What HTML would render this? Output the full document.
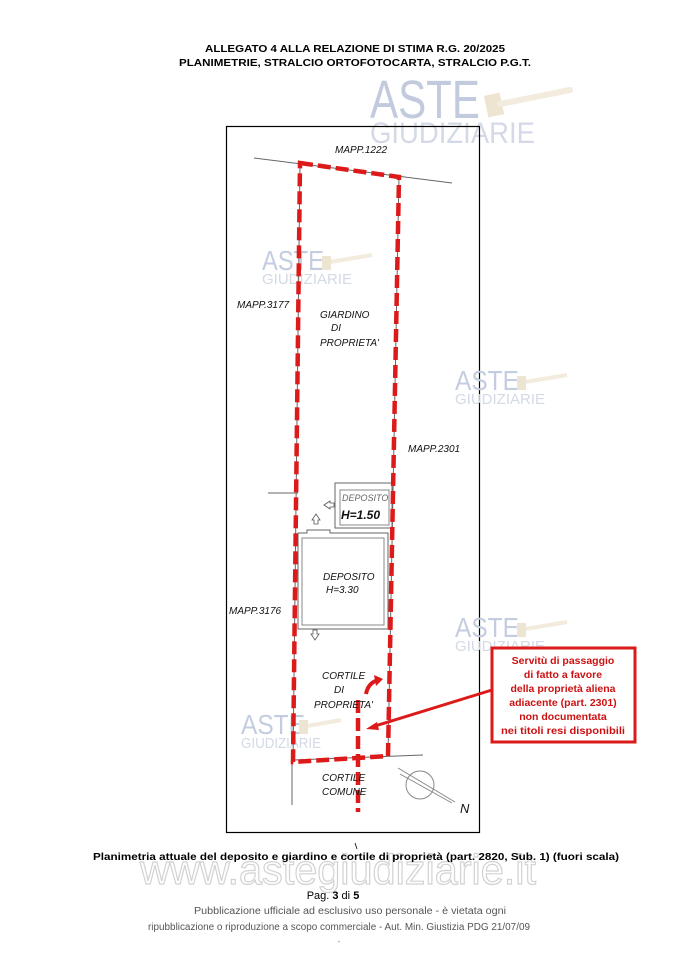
<!DOCTYPE html>
<html><head><meta charset="utf-8"><style>
html,body{margin:0;padding:0;background:#fff}
svg{display:block}
</style></head><body>
<svg width="679" height="959" viewBox="0 0 679 959" xmlns="http://www.w3.org/2000/svg" font-family="Liberation Sans, sans-serif">
<!-- header -->
<text x="355" y="52" font-size="10.5" font-weight="bold" text-anchor="middle" textLength="300" lengthAdjust="spacingAndGlyphs">ALLEGATO 4  ALLA RELAZIONE DI STIMA R.G. 20/2025</text>
<text x="355" y="66" font-size="10.5" font-weight="bold" text-anchor="middle" textLength="352" lengthAdjust="spacingAndGlyphs">PLANIMETRIE, STRALCIO ORTOFOTOCARTA, STRALCIO P.G.T.</text>

<!-- big watermark -->
<g>
<text x="370" y="118" font-size="54" fill="#c2cbde" textLength="110" lengthAdjust="spacingAndGlyphs">ASTE</text>
<text x="370" y="143" font-size="30" fill="#d3d9e6" textLength="165" lengthAdjust="spacingAndGlyphs">GIUDIZIARIE</text>
<rect x="486" y="94" width="16" height="22" fill="#eee4d2" transform="rotate(-12 494 105)"/>
<line x1="500" y1="104" x2="570" y2="90" stroke="#f2ebde" stroke-width="6" stroke-linecap="round"/>
</g>

<!-- frame -->
<rect x="226.5" y="126.5" width="253" height="706" fill="none" stroke="#000" stroke-width="1.2"/>

<!-- small watermarks -->
<g fill="#c4cde0">
<g transform="translate(262,248)"><text x="0" y="22" font-size="28" textLength="62" lengthAdjust="spacingAndGlyphs">ASTE</text><text x="0" y="36" font-size="15" fill="#d3d9e6" textLength="90" lengthAdjust="spacingAndGlyphs">GIUDIZIARIE</text><line x1="68" y1="14" x2="110" y2="7" stroke="#f2ebde" stroke-width="4"/><rect x="60" y="8" width="9" height="14" fill="#eee4d2"/></g>
<g transform="translate(455,368)"><text x="0" y="22" font-size="28" textLength="64" lengthAdjust="spacingAndGlyphs">ASTE</text><text x="0" y="36" font-size="15" fill="#d3d9e6" textLength="90" lengthAdjust="spacingAndGlyphs">GIUDIZIARIE</text><line x1="70" y1="14" x2="112" y2="7" stroke="#f2ebde" stroke-width="4"/><rect x="62" y="8" width="9" height="14" fill="#eee4d2"/></g>
<g transform="translate(455,615)"><text x="0" y="22" font-size="28" textLength="64" lengthAdjust="spacingAndGlyphs">ASTE</text><text x="0" y="36" font-size="15" fill="#d3d9e6" textLength="90" lengthAdjust="spacingAndGlyphs">GIUDIZIARIE</text><line x1="70" y1="14" x2="112" y2="7" stroke="#f2ebde" stroke-width="4"/><rect x="62" y="8" width="9" height="14" fill="#eee4d2"/></g>
<g transform="translate(241,712)"><text x="0" y="22" font-size="28" textLength="64" lengthAdjust="spacingAndGlyphs">ASTE</text><text x="0" y="36" font-size="15" fill="#d3d9e6" textLength="80" lengthAdjust="spacingAndGlyphs">GIUDIZIARIE</text><line x1="66" y1="14" x2="100" y2="8" stroke="#f2ebde" stroke-width="4"/><rect x="58" y="8" width="9" height="14" fill="#eee4d2"/></g>
</g>

<!-- thin gray lines -->
<g stroke="#666" stroke-width="1" fill="none">
<line x1="254" y1="158" x2="452" y2="183"/>
<line x1="300" y1="163" x2="293" y2="762"/>
<line x1="399" y1="177" x2="388" y2="756"/>
<line x1="293" y1="760" x2="423" y2="755"/>
<line x1="292" y1="762" x2="292" y2="805"/>
<line x1="268" y1="493" x2="298" y2="493"/>
<path d="M298,538 L298,629 L388,629 L388,533 L330,533 L330,530 L307,530 L307,533 L298,533 Z"/>
<path d="M302,538 L302,625 L384,625 L384,538 Z" stroke="#888"/>
<rect x="335" y="483" width="57" height="45"/>
<rect x="340" y="490" width="49" height="35" stroke="#888"/>
<circle cx="420" cy="785" r="14" stroke="#888"/>
<line x1="398" y1="768" x2="455" y2="802" stroke="#888"/>
<line x1="400" y1="774" x2="452" y2="803" stroke="#888"/>
</g>
<g fill="#fff" stroke="#555" stroke-width="0.8">
<path d="M312,520 l4,-6 l4,6 h-2 v4 h-4 v-4z"/>
<path d="M311,634 l4,6 l4,-6 h-2 v-4 h-4 v4z"/>
<path d="M324,505 l6,-4 v2 h4 v4 h-4 v2z"/>
</g>

<!-- red dashed boundary -->
<g stroke="#dd1a1a" stroke-width="4.5" fill="none" stroke-dasharray="13,5">
<path d="M300,163 L399,177 L388,756 L293,762 Z"/>
<line x1="358" y1="700" x2="358" y2="812"/>
</g>
<path d="M366,694 Q368,683 378,680" stroke="#dd1a1a" stroke-width="4" fill="none"/>
<path d="M374,675 l9,4 l-7,7 z" fill="#dd1a1a"/>
<line x1="492" y1="690" x2="375" y2="726" stroke="#dd1a1a" stroke-width="3"/>
<path d="M366,729 l11,-7 l2,8 z" fill="#dd1a1a"/>
<rect x="492" y="648" width="143" height="94" fill="#fff" stroke="#dd1a1a" stroke-width="3"/>
<g font-size="10.5" font-weight="bold" fill="#cc1111" text-anchor="middle">
<text x="563" y="664">Servitù di passaggio</text>
<text x="563" y="678">di fatto a favore</text>
<text x="563" y="692">della proprietà aliena</text>
<text x="563" y="706">adiacente (part. 2301)</text>
<text x="563" y="720">non documentata</text>
<text x="563" y="734" textLength="124" lengthAdjust="spacingAndGlyphs">nei titoli resi disponibili</text>
</g>

<g font-size="10" font-style="italic" fill="#111">
<text x="335" y="153">MAPP.1222</text>
<text x="237" y="308">MAPP.3177</text>
<text x="320" y="318">GIARDINO</text>
<text x="331" y="331">DI</text>
<text x="320" y="346">PROPRIETA'</text>
<text x="408" y="452">MAPP.2301</text>
<text x="342" y="501" font-size="9" fill="#666">DEPOSITO</text>
<text x="341" y="519" font-size="12" font-weight="bold">H=1.50</text>
<text x="323" y="580">DEPOSITO</text>
<text x="326" y="593">H=3.30</text>
<text x="229" y="614">MAPP.3176</text>
<text x="322" y="679">CORTILE</text>
<text x="334" y="693">DI</text>
<text x="314" y="708">PROPRIETA'</text>
<text x="322" y="781">CORTILE</text>
<text x="322" y="795">COMUNE</text>
<text x="460" y="813" font-size="13">N</text>
</g>

<text x="140" y="884" font-size="42" fill="#fff" stroke="#d2d2d2" stroke-width="1.2" textLength="396" lengthAdjust="spacingAndGlyphs">www.astegiudiziarie.it</text>
<line x1="355" y1="843" x2="357" y2="849" stroke="#000" stroke-width="0.8"/>
<text x="356" y="860" font-size="10.5" font-weight="bold" text-anchor="middle" textLength="526" lengthAdjust="spacingAndGlyphs">Planimetria attuale del deposito e giardino e cortile di proprietà (part. 2820, Sub. 1) (fuori scala)</text>

<text x="333" y="899" font-size="11" text-anchor="middle">Pag. <tspan font-weight="bold">3</tspan> di <tspan font-weight="bold">5</tspan></text>
<text x="350" y="914" font-size="10" fill="#555" text-anchor="middle" textLength="312" lengthAdjust="spacingAndGlyphs">Pubblicazione ufficiale ad esclusivo uso personale - è vietata ogni</text>
<text x="339" y="930" font-size="10" fill="#555" text-anchor="middle" textLength="382" lengthAdjust="spacingAndGlyphs">ripubblicazione o riproduzione a scopo commerciale - Aut. Min. Giustizia PDG 21/07/09</text>
<text x="339" y="944" font-size="8" fill="#777" text-anchor="middle">-</text>
</svg>
</body></html>
